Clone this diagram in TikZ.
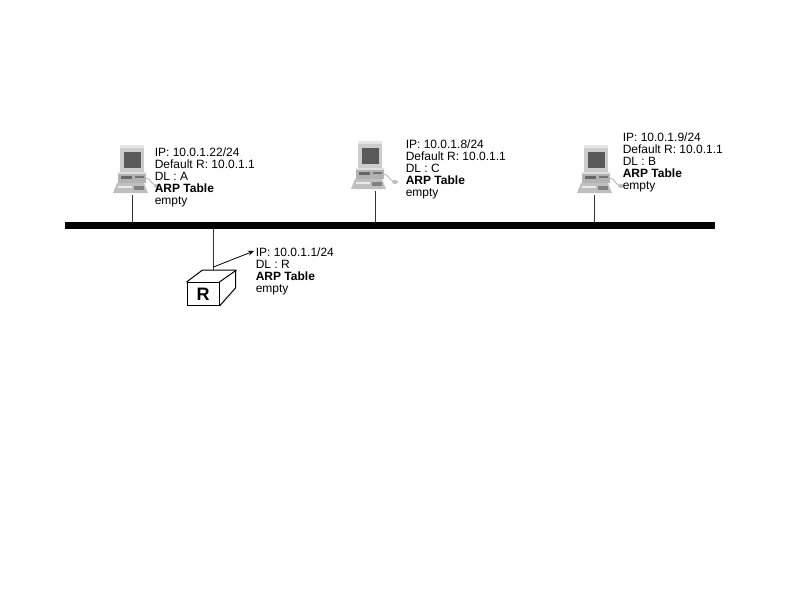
\documentclass[tikz,border=0pt]{standalone}
\usepackage{fontspec}
\setmainfont{Liberation Sans}
\usetikzlibrary{arrows.meta}
\tikzset{
    info/.style={anchor=north west, inner sep=0pt, align=left, font=\fontsize{12}{12}\selectfont},
    stem/.style={draw=black!80, line width=1pt},
    pics/host/.style={
        code={
            \node[minimum width=35pt, minimum height=50pt, inner sep=0pt, anchor=north west] (-box) at (-7,0) {};
            \fill[black!20] (0,0) rectangle (24,27);
            \fill[black!10] (0,0) rectangle (24,3);
            \fill[black!65] (4,7) rectangle (21,23);
            \fill[black!30] (-2,27) rectangle (26,38);
            \fill[black!12] (-2,27) rectangle (26,29);
            \fill[black!60] (1,31) rectangle (12,34);
            \fill[black!55] (15,31) rectangle (24,33);
            \fill[black!25] (-3,38) -- (24,38) -- (28,48) -- (-7,48) -- cycle;
            \fill[black!8] (-2,41) rectangle (12,43);
            \fill[black!50] (14,41) rectangle (24,45);
            \draw[black!30, line width=0.8pt] (26,33) .. controls (31,34) and (31,39) .. (35,40);
            \fill[black!25] (37,41) circle [x radius=3pt, y radius=2pt];
        }},
}

\begin{document}
\begin{tikzpicture}[x=1pt, y=-1pt]

    \useasboundingbox (0,0) rectangle (794,595);

    % network
    \node[fill=black, minimum width=650pt, minimum height=7pt, inner sep=0pt, anchor=north west] (bus) at (65,222) {};

    \pic (hostA) at (120,145) {host};
    \pic (hostC) at (358,141) {host};
    \pic (hostB) at (584,145) {host};

    \node[info] (infoA) at (154.6,147.7) {IP: 10.0.1.22/24\\Default R: 10.0.1.1\\DL : A\\\textbf{ARP Table}\\empty};
    \node[info] (infoC) at (405.6,139.7) {IP: 10.0.1.8/24\\Default R: 10.0.1.1\\DL : C\\\textbf{ARP Table}\\empty};
    \node[info] (infoB) at (622.6,132.7) {IP: 10.0.1.9/24\\Default R: 10.0.1.1\\DL : B\\\textbf{ARP Table}\\empty};
    \node[info] (infoR) at (255.6,247.7) {IP: 10.0.1.1/24\\DL : R\\\textbf{ARP Table}\\empty};

    % router
    \node[draw, line width=1pt, minimum width=32pt, minimum height=23pt, inner sep=0pt, anchor=north west, font=\fontsize{18}{18}\selectfont\bfseries] (router) at (186.5,282) {R};
    \draw[line width=1pt] (router.north west) -- ++(16,-12) -- ++(33,0) -- ++(0,18) -- (router.south east);
    \draw[line width=1pt] (router.north east) -- ++(17,-12);

    \coordinate (roof) at (213.5,270);
    \coordinate (tap) at (213.5,267);
    \coordinate (tip) at (254,251);

    \draw[stem] (hostA-box.south -| 132,0) -- (132,0 |- bus.north);
    \draw[stem] (hostC-box.south -| 375,0) -- (375,0 |- bus.north);
    \draw[stem] (hostB-box.south -| 594,0) -- (594,0 |- bus.north);
    \draw[stem] (213.5,0 |- bus.south) -- (roof);
    \draw[-{Stealth[length=6pt, width=5pt]}, line width=0.8pt] (tap) -- (tip);

\end{tikzpicture}
\end{document}
